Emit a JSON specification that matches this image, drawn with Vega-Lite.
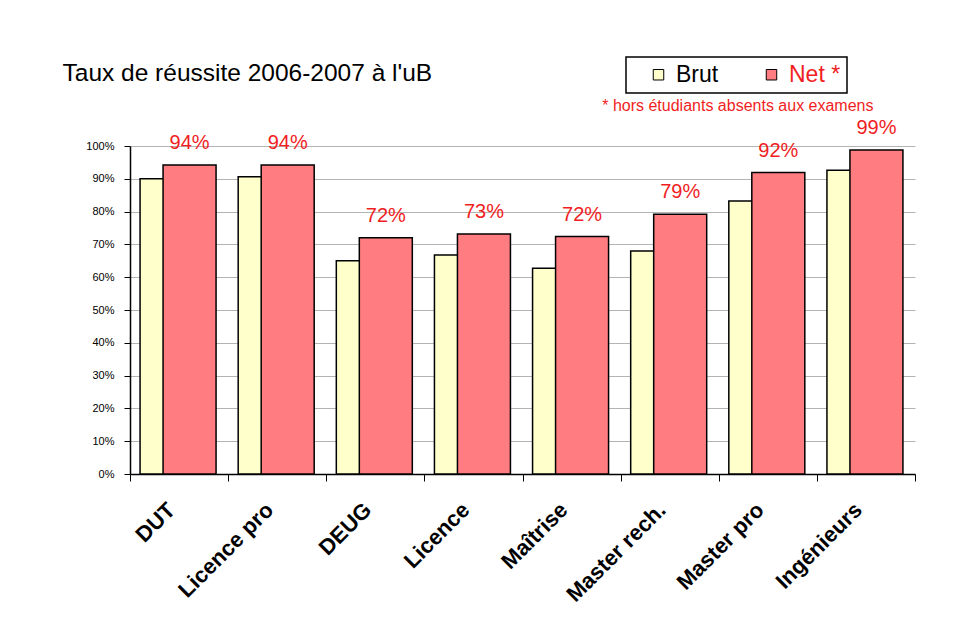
{
  "$schema": "https://vega.github.io/schema/vega-lite/v6.json",
  "width": 785,
  "height": 328,
  "autosize": "none",
  "padding": {"left": 130, "top": 146, "right": 40, "bottom": 169},
  "background": "white",
  "config": {"view": {"stroke": null}, "font": "Liberation Sans"},
  "data": {
    "values": [
      {"cat": "DUT", "type": "Brut", "value": 0.90},
      {"cat": "DUT", "type": "Net *", "value": 0.942},
      {"cat": "Licence pro", "type": "Brut", "value": 0.906},
      {"cat": "Licence pro", "type": "Net *", "value": 0.942},
      {"cat": "DEUG", "type": "Brut", "value": 0.65},
      {"cat": "DEUG", "type": "Net *", "value": 0.72},
      {"cat": "Licence", "type": "Brut", "value": 0.668},
      {"cat": "Licence", "type": "Net *", "value": 0.732},
      {"cat": "Maîtrise", "type": "Brut", "value": 0.627},
      {"cat": "Maîtrise", "type": "Net *", "value": 0.724},
      {"cat": "Master rech.", "type": "Brut", "value": 0.68},
      {"cat": "Master rech.", "type": "Net *", "value": 0.792},
      {"cat": "Master pro", "type": "Brut", "value": 0.832},
      {"cat": "Master pro", "type": "Net *", "value": 0.919},
      {"cat": "Ingénieurs", "type": "Brut", "value": 0.926},
      {"cat": "Ingénieurs", "type": "Net *", "value": 0.988}
    ]
  },
  "encoding": {
    "x": {
      "field": "cat",
      "type": "nominal",
      "sort": null,
      "scale": {"paddingInner": 0, "paddingOuter": 0},
      "axis": {
        "labelAngle": -45,
        "labelAlign": "right",
        "labelBaseline": "middle",
        "labelFontSize": 22,
        "labelFontWeight": "bold",
        "labelColor": "black",
        "labelPadding": 25,
        "labelOffset": -8,
        "tickSize": 7,
        "tickBand": "extent",
        "tickColor": "black",
        "domainColor": "black",
        "domainWidth": 1.5,
        "grid": false,
        "title": "* hors étudiants absents aux examens",
        "titleX": 743,
        "titleY": -364,
        "titleAlign": "right",
        "titleBaseline": "alphabetic",
        "titleColor": "#f01e23",
        "titleFontSize": 16,
        "titleFontWeight": "normal"
      }
    },
    "y": {
      "field": "value",
      "type": "quantitative",
      "scale": {"domain": [0, 1]},
      "axis": {
        "values": [0, 0.1, 0.2, 0.3, 0.4, 0.5, 0.6, 0.7, 0.8, 0.9, 1],
        "format": ".0%",
        "labelFontSize": 11,
        "labelColor": "black",
        "labelPadding": 10,
        "tickSize": 6,
        "tickColor": "black",
        "domainColor": "black",
        "domainWidth": 1.5,
        "gridColor": "#b4b4b4",
        "title": "Taux de réussite 2006-2007 à l'uB",
        "titleAngle": 0,
        "titleAlign": "left",
        "titleBaseline": "alphabetic",
        "titleX": -68,
        "titleY": -66,
        "titleFontSize": 24.5,
        "titleFontWeight": "normal",
        "titleColor": "black"
      }
    }
  },
  "layer": [
    {
      "transform": [{"filter": "datum.type === 'Brut'"}],
      "mark": {"type": "bar", "width": 53, "xOffset": -12.5, "stroke": "black", "strokeWidth": 1.5},
      "encoding": {
        "color": {
          "field": "type",
          "type": "nominal",
          "scale": {"domain": ["Brut", "Net *"], "range": ["#FFFFCC", "#FF7C80"]},
          "legend": {
            "orient": "none",
            "legendX": 496,
            "legendY": -89,
            "direction": "horizontal",
            "title": null,
            "strokeColor": "black",
            "fillColor": "white",
            "padding": 6,
            "symbolType": "square",
            "symbolSize": 110,
            "symbolStrokeColor": "black",
            "symbolStrokeWidth": 1,
            "symbolOffset": 15,
            "labelFontSize": 23,
            "labelOffset": 6,
            "columnPadding": 26,
            "labelColor": "black",
            "encode": {
              "legend": {"update": {"strokeWidth": {"value": 1.5}}},
              "labels": {"update": {"fill": {"signal": "datum.label === 'Brut' ? 'black' : '#f01e23'"}}}
            }
          }
        }
      }
    },
    {
      "transform": [{"filter": "datum.type === 'Net *'"}],
      "mark": {"type": "bar", "width": 53, "xOffset": 10.5, "stroke": "black", "strokeWidth": 1.5},
      "encoding": {
        "color": {
          "field": "type",
          "type": "nominal",
          "scale": {"domain": ["Brut", "Net *"], "range": ["#FFFFCC", "#FF7C80"]}
        }
      }
    },
    {
      "transform": [{"filter": "datum.type === 'Net *'"}],
      "mark": {"type": "text", "xOffset": 10.5, "dy": -16, "baseline": "alphabetic", "fontSize": 20, "color": "#f01e23"},
      "encoding": {
        "text": {"field": "value", "type": "quantitative", "format": ".0%"}
      }
    }
  ]
}
